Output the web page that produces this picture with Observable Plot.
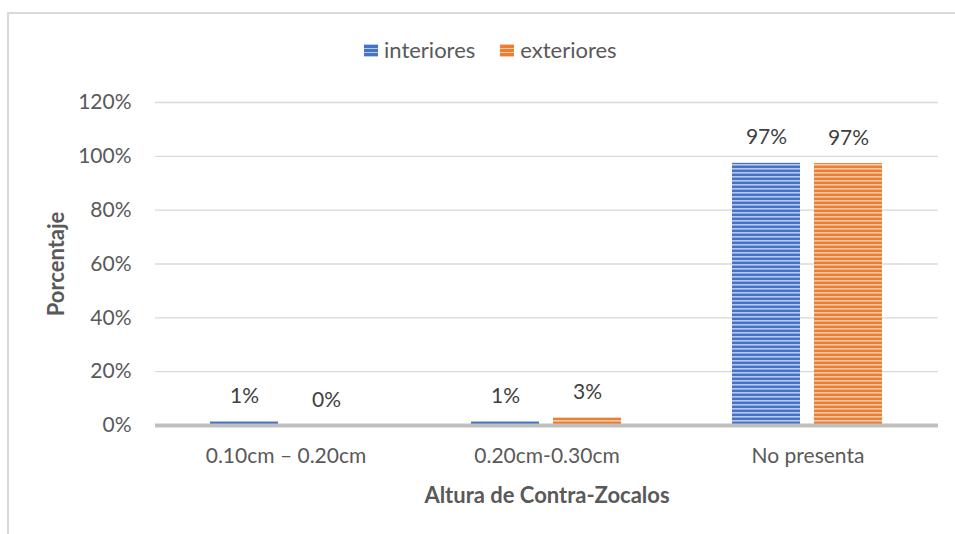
<!DOCTYPE html>
<html>
<head>
<meta charset="utf-8">
<script src="https://cdn.jsdelivr.net/npm/d3@7"></script>
<script src="https://cdn.jsdelivr.net/npm/@observablehq/plot@0.6"></script>
<style>
  html, body { margin: 0; padding: 0; background: #ffffff; }
  #wrap { position: relative; width: 955px; height: 534px; overflow: hidden; background: #fff; }
  #frame { position: absolute; left: 7px; top: 12px; right: -10px; bottom: -10px;
           border-top: 2px solid #d9d9d9; border-left: 2px solid #d9d9d9; }
  #chart { position: absolute; left: 0; top: 0; }
  #legend { position: absolute; left: 364px; top: 37px; display: flex; align-items: center;
            font-family: Lato, sans-serif; font-size: 22px; color: #595959; line-height: 26px; }
  #legend .item { display: flex; align-items: center; margin-right: 25px; }
  #legend .sw { width: 14px; height: 13px; margin-right: 6px; }
  g[aria-label$="-axis label"] text { font-weight: 700; font-size: 22px; fill: #595959; }
</style>
</head>
<body>
<div id="wrap">
  <div id="frame"></div>
  <div id="legend"></div>
  <div id="chart"></div>
</div>
<script>
// ---- data ----
const categories = ["0.10cm – 0.20cm", "0.20cm-0.30cm", "No presenta"];
const series = ["interiores", "exteriores"];
const interiores = [1.4, 1.4, 97.4];
const exteriores = [0, 2.8, 97.3];
const yTicks = [0, 20, 40, 60, 80, 100, 120];

// ---- styles ----
const baseColors = ["#4472C4", "#ED7D31"];
const lightColors = ["#B7C9EC", "#F8C7A5"];
const patternIds = ["pat-int", "pat-ext"];

const values = {interiores, exteriores};
const data = [];
categories.forEach((c, i) => {
  series.forEach(s => data.push({cat: c, serie: s, value: values[s][i]}));
});

const chart = Plot.plot({
  width: 955,
  height: 534,
  marginLeft: 155,
  marginRight: 17,
  marginTop: 102,
  marginBottom: 109,
  style: {fontFamily: "Lato, sans-serif", fontSize: "21px", color: "#595959", background: "transparent", overflow: "visible"},
  fx: {domain: categories, padding: 0, label: "Altura de Contra-Zocalos", labelArrow: "none", labelAnchor: "center", labelOffset: 77, tickSize: 0, tickPadding: 23},
  x: {domain: series, axis: null, paddingInner: 0.17, paddingOuter: 0.676},
  y: {domain: [0, 120], ticks: yTicks, tickFormat: d => d + "%", tickSize: 0, tickPadding: 24, label: "Porcentaje", labelArrow: "none", labelAnchor: "center", labelOffset: 107},
  color: {domain: series, range: patternIds.map(id => `url(#${id})`)},
  marks: [
    Plot.ruleY(yTicks.filter(d => d > 0), {stroke: "#d9d9d9", strokeWidth: 1.3}),
    Plot.barY(data, {fx: "cat", x: "serie", y: "value", fill: "serie"}),
    Plot.ruleY([0], {stroke: "#bfbfbf", strokeWidth: 4}),
    Plot.text(data, {fx: "cat", x: "serie", y: "value", text: d => Math.round(d.value) + "%", lineAnchor: "bottom", dy: -19, fill: "#404040"})
  ]
});

// stripe patterns
const defs = d3.select(chart).insert("defs", ":first-child");
patternIds.forEach((id, i) => {
  const p = defs.append("pattern").attr("id", id).attr("patternUnits", "userSpaceOnUse")
    .attr("width", 8).attr("height", 4);
  p.append("rect").attr("width", 8).attr("height", 4).attr("fill", baseColors[i]);
  p.append("rect").attr("y", 0).attr("width", 8).attr("height", 1.6).attr("fill", lightColors[i]);
});
document.getElementById("chart").appendChild(chart);

// legend
const legend = d3.select("#legend");
series.forEach((s, i) => {
  const it = legend.append("div").attr("class", "item");
  it.append("div").attr("class", "sw")
    .style("background", `repeating-linear-gradient(to bottom, ${lightColors[i]} 0px, ${lightColors[i]} 1.5px, ${baseColors[i]} 1.5px, ${baseColors[i]} 4px)`);
  it.append("span").text(s);
});
</script>
</body>
</html>
